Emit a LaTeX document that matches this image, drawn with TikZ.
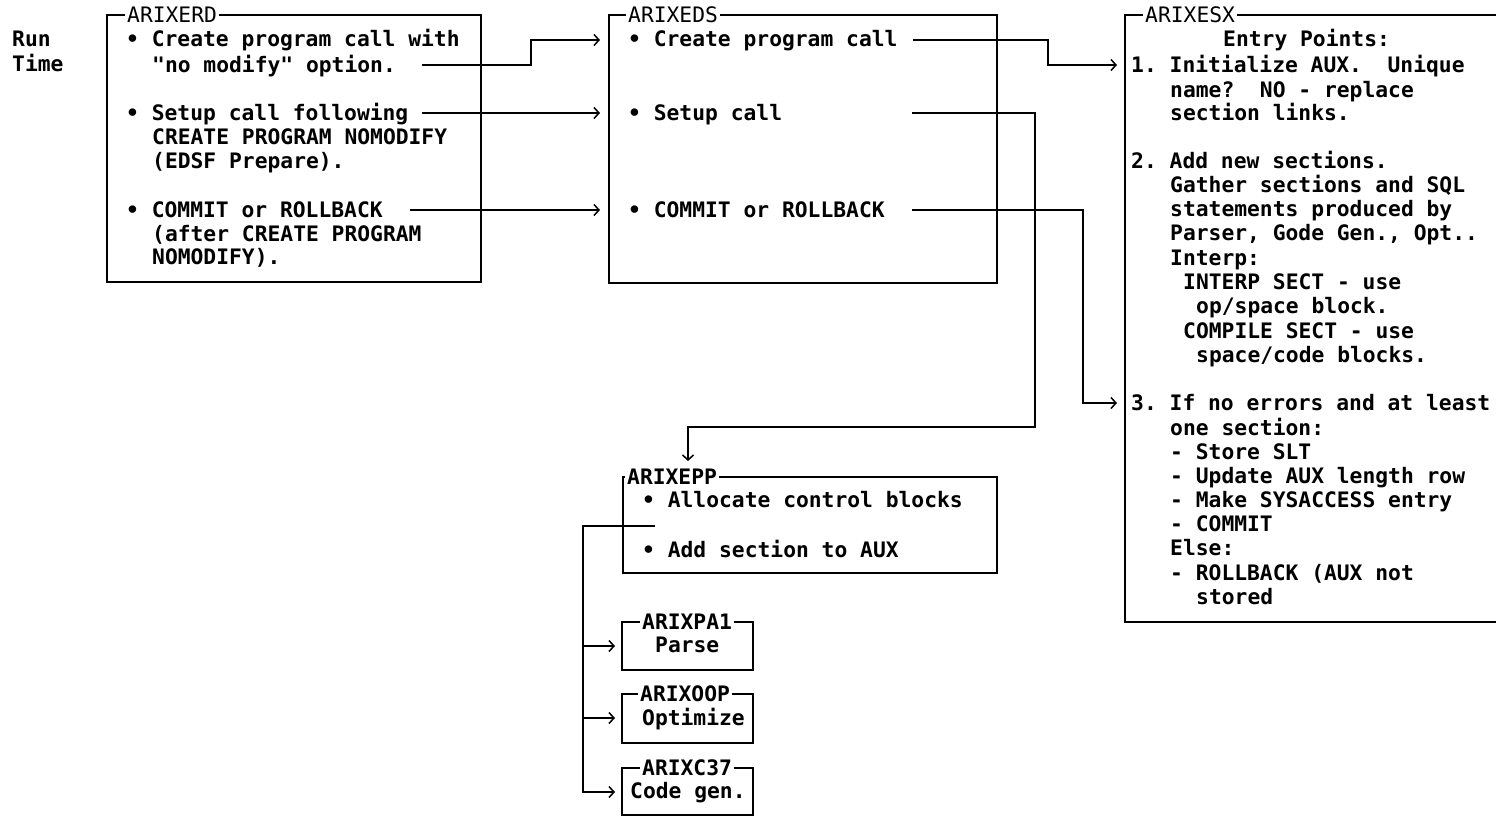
\documentclass[tikz,border=0pt]{standalone}
\usepackage{fontspec}
\setmonofont{DejaVu Sans Mono}
\usetikzlibrary{arrows.meta,calc}
\begin{document}
\begin{tikzpicture}[x=1pt,y=-1pt,
  every node/.style={inner sep=0pt},
  txt/.style={anchor=base west, font=\ttfamily\bfseries\fontsize{21.3}{24}\selectfont},
  ttl/.style={anchor=west, fill=white, inner xsep=2pt, inner ysep=1pt,
              font=\ttfamily\fontsize{21.3}{24}\selectfont},
  ttlb/.style={ttl, font=\ttfamily\bfseries\fontsize{21.3}{24}\selectfont},
  frame/.style={draw, line width=1.5pt, anchor=north west, outer sep=0pt},
  wire/.style={line width=1.5pt},
  arr/.style={wire, -{Straight Barb[length=5pt,width=11pt,line width=1.5pt]}},
]
\clip (0,0) rectangle (1496,816);
\fill[white] (0,0) rectangle (1496,816);

% ---- side label ----
\node[txt] (run)  at (12,47) {Run};
\node[txt] (time) at (12,71) {Time};

% ---- ARIXERD ----
\node[frame, minimum width=374pt, minimum height=267pt] (erd) at (107,15) {};
\node[ttl] (erdT) at (125,15) {ARIXERD};
\node[txt] (erdA1) at (126,47)  {• Create program call with};
\node[txt] (erdA2) at (152,72)  {"no modify" option.};
\node[txt] (erdB1) at (126,120) {• Setup call following};
\node[txt] (erdB2) at (152,144) {CREATE PROGRAM NOMODIFY};
\node[txt] (erdB3) at (152,168) {(EDSF Prepare).};
\node[txt] (erdC1) at (126,217) {• COMMIT or ROLLBACK};
\node[txt] (erdC2) at (152,241) {(after CREATE PROGRAM};
\node[txt] (erdC3) at (152,264) {NOMODIFY).};

% ---- ARIXEDS ----
\node[frame, minimum width=388pt, minimum height=268pt] (eds) at (609,15) {};
\node[ttl] (edsT) at (626,15) {ARIXEDS};
\node[txt] (edsA) at (628,47)  {• Create program call};
\node[txt] (edsB) at (628,120) {• Setup call};
\node[txt] (edsC) at (628,217) {• COMMIT or ROLLBACK};

% ---- ARIXESX ----
\node[frame, minimum width=420pt, minimum height=607pt] (esx) at (1125,15) {};
\node[ttl] (esxT) at (1143,15) {ARIXESX};
\node[txt] (esx0)  at (1223,47)  {Entry Points:};
\node[txt] (esx1)  at (1131,72)  {1. Initialize AUX.\ \ Unique};
\node[txt] (esx1b) at (1170,97)  {name?\ \ NO - replace};
\node[txt] (esx1c) at (1170,120) {section links.};
\node[txt] (esx2)  at (1131,168) {2. Add new sections.};
\node[txt] (esx2b) at (1170,192) {Gather sections and SQL};
\node[txt] (esx2c) at (1170,216) {statements produced by};
\node[txt] (esx2d) at (1170,240) {Parser, Gode Gen., Opt..};
\node[txt] (esx2e) at (1170,265) {Interp:};
\node[txt] (esx2f) at (1183,289) {INTERP SECT - use};
\node[txt] (esx2g) at (1196,313) {op/space block.};
\node[txt] (esx2h) at (1183,338) {COMPILE SECT - use};
\node[txt] (esx2i) at (1196,362) {space/code blocks.};
\node[txt] (esx3)  at (1131,410) {3. If no errors and at least};
\node[txt] (esx3b) at (1170,435) {one section:};
\node[txt] (esx3c) at (1170,459) {- Store SLT};
\node[txt] (esx3d) at (1170,483) {- Update AUX length row};
\node[txt] (esx3e) at (1170,507) {- Make SYSACCESS entry};
\node[txt] (esx3f) at (1170,531) {- COMMIT};
\node[txt] (esx3g) at (1170,555) {Else:};
\node[txt] (esx3h) at (1170,580) {- ROLLBACK (AUX not};
\node[txt] (esx3i) at (1196,604) {stored};

% ---- ARIXEPP ----
\node[frame, minimum width=374pt, minimum height=96pt] (epp) at (623,477) {};
\node[ttlb] (eppT) at (625,477) {ARIXEPP};
\node[txt] (eppA) at (642,507) {• Allocate control blocks};
\node[txt] (eppB) at (642,557) {• Add section to AUX};

% ---- called routines ----
\node[frame, minimum width=131pt, minimum height=48pt] (pa1) at (622,622) {};
\node[ttlb] (pa1T) at (640,622) {ARIXPA1};
\node[txt] (pa1X) at (655,652) {Parse};
\node[frame, minimum width=131pt, minimum height=49pt] (oop) at (622,694) {};
\node[ttlb] (oopT) at (638,694) {ARIXOOP};
\node[txt] (oopX) at (642,725) {Optimize};
\node[frame, minimum width=131pt, minimum height=47pt] (c37) at (622,768) {};
\node[ttlb] (c37T) at (640,768) {ARIXC37};
\node[txt] (c37X) at (630,798) {Code gen.};

% ---- ports and bends ----
\coordinate (edsInA) at ($(eds.west |- edsA.base)+(-9,-7)$);
\coordinate (edsInB) at ($(eds.west |- edsB.base)+(-9,-7)$);
\coordinate (edsInC) at ($(eds.west |- edsC.base)+(-9,-7)$);
\coordinate (esxIn1) at ($(esx.west |- esx1.base)+(-8,-7)$);
\coordinate (esxIn3) at ($(esx.west |- esx3.base)+(-8,-7)$);
\coordinate (eppIn)  at (688,461);
\coordinate (bendA)  at (531,40);
\coordinate (bend1)  at (1048,65);
\coordinate (bendB)  at (1035,427);
\coordinate (bend3)  at (1083,403);
\coordinate (eppOut) at (655,526);
\coordinate (trunk)  at (583,792);
\coordinate (pa1In)  at ($(pa1.west |- pa1X.base)+(-7,-6)$);
\coordinate (oopIn)  at ($(oop.west |- oopX.base)+(-7,-7)$);
\coordinate (c37In)  at ($(c37.west |- c37X.base)+(-7,-6)$);

% ---- connectors ----
\draw[arr] ($(erdA2.base east)+(26,-7)$) -| (bendA) -- (edsInA);
\draw[arr] ($(erdB1.base east)+(13,-7)$) -- (edsInB);
\draw[arr] ($(erdC1.base east)+(27,-7)$) -- (edsInC);
\draw[arr] ($(edsA.base east)+(15,-7)$) -| (bend1) -- (esxIn1);
\draw[arr] ($(edsB.base east)+(130,-7)$) -| (bendB) -| (eppIn);
\draw[arr] ($(edsC.base east)+(27,-7)$) -| (bend3) -- (esxIn3);
\draw[arr] (eppOut) -| (trunk |- c37In) -- (c37In);
\draw[arr] (trunk |- pa1In) -- (pa1In);
\draw[arr] (trunk |- oopIn) -- (oopIn);
\end{tikzpicture}
\end{document}
